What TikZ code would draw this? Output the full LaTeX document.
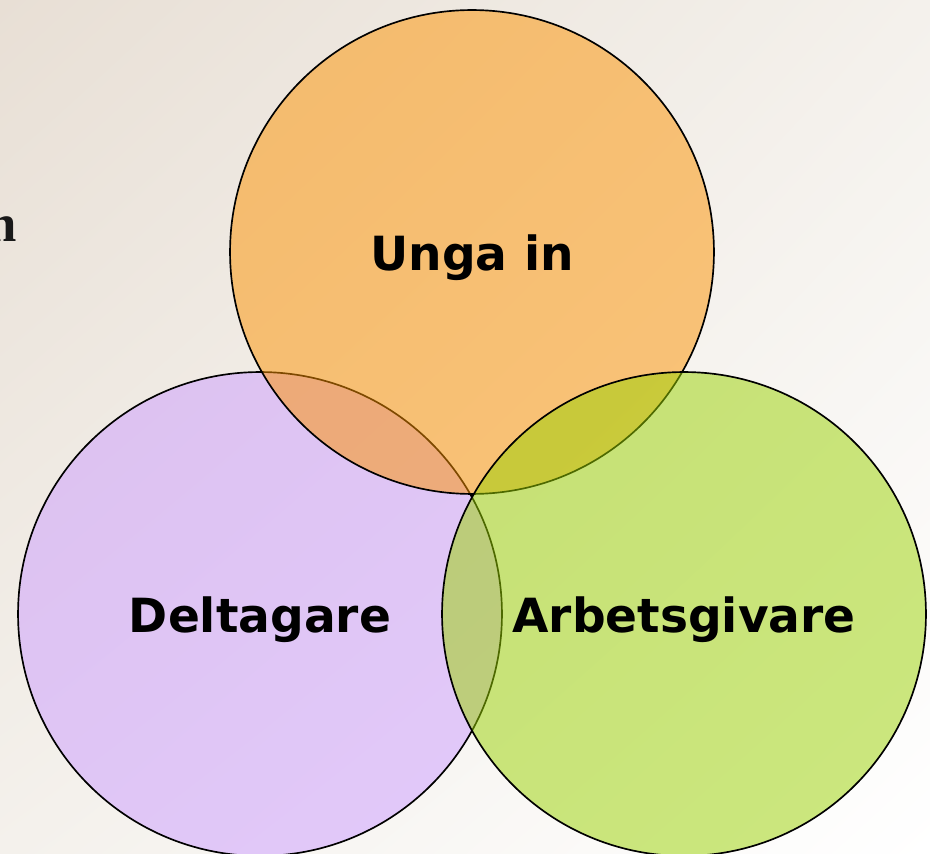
\documentclass[tikz,border=0pt]{standalone}
\usepackage{fontspec}
\setsansfont{DejaVu Sans}
\setmainfont{Liberation Serif}
\usetikzlibrary{positioning,calc,shadings}
\definecolor{ungaorange}{HTML}{FC9200}
\definecolor{deltalila}{HTML}{CC9CFF}
\definecolor{arbgron}{HTML}{9AD200}
\definecolor{bgtan}{HTML}{E8DFD5}
\definecolor{bgmid}{HTML}{F4F1EC}
\tikzset{
	venn/.style={circle, draw=black, line width=0.95pt, minimum size=9.68cm,
		fill opacity=0.5, text opacity=1, inner sep=0pt},
	vlabel/.style={font=\sffamily\bfseries\fontsize{26.8}{32}\selectfont}
}

\begin{document}
\begin{tikzpicture}[x=0.02cm, y=-0.02cm]
	\useasboundingbox (0, 0) rectangle (930, 854);
	\clip (0, 0) rectangle (930, 854);
	\shade[upper left=bgtan, upper right=bgmid, lower left=bgmid, lower right=white]
		(0, 0) rectangle (930, 854);

	\node[anchor=base east, inner sep=0pt, text=black!90,
		font=\bfseries\fontsize{30}{36}\selectfont] (cut) at (17, 242) {n};

	\begin{scope}
		\node[venn, fill=deltalila] (delta) at (260, 614) {};
		\node[venn, fill=ungaorange] (unga) at (472, 252) {};
		\node[venn, fill=arbgron] (arb) at (684, 614) {};

		\node[vlabel] (lunga) at ($(unga.center)+(0, 6)$) {Unga in};
		\node[vlabel] (ldelta) at ($(delta.center)+(0, 6)$) {Deltagare};
		\node[vlabel] (larb) at ($(arb.center)+(0, 6)$) {Arbetsgivare};
	\end{scope}
\end{tikzpicture}
\end{document}
